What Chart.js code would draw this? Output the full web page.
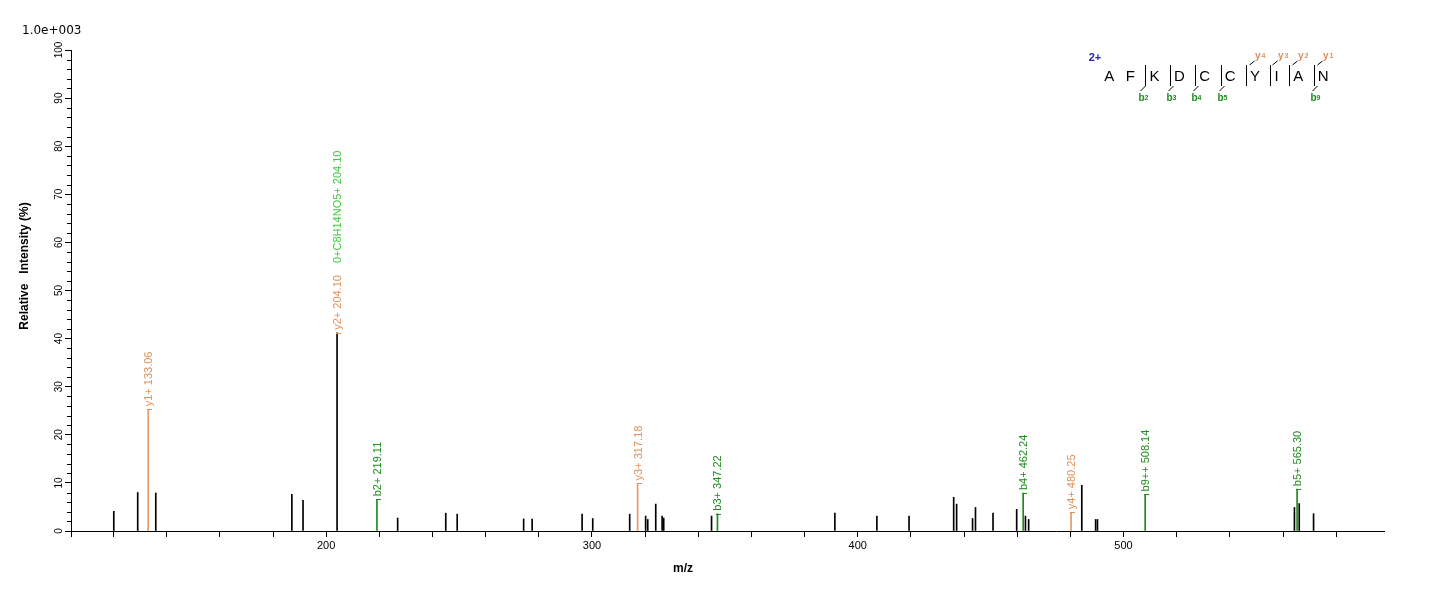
<!DOCTYPE html>
<html><head><meta charset="utf-8">
<script src="https://cdn.jsdelivr.net/npm/chart.js@4.4.0/dist/chart.umd.min.js"></script>
<style>html,body{margin:0;padding:0;background:#fff}canvas{display:block}</style>
</head><body>
<canvas id="c" width="1436" height="590"></canvas>
<script>
// ---- data (m/z, relative intensity %) ----
const otherMz  = [120.1,129.1,135.9,187.1,191.3,204.10,226.9,245.0,249.3,274.3,277.5,296.3,300.3,314.2,320.2,321.0,324.0,326.4,327.0,345.0,391.4,407.2,419.3,436.1,437.2,443.2,444.3,450.9,459.8,463.1,464.3,484.3,489.5,490.2,564.3,566.1,571.5];
const otherInt = [4.1,8.0,7.9,7.6,6.4,41.2,2.7,3.7,3.5,2.5,2.5,3.5,2.6,3.5,3.1,2.4,5.6,3.1,2.7,3.1,3.7,3.1,3.1,7.0,5.6,2.6,4.9,3.7,4.5,3.1,2.4,9.5,2.4,2.4,4.9,5.7,3.6];
const yIonMz   = [133.06,317.18,480.25];
const yIonInt  = [25.3,9.9,3.9];
const bIonMz   = [219.11,347.22,462.24,508.14,565.30];
const bIonInt  = [6.6,3.6,7.9,7.6,8.7];
// peak annotations
const labelMz   = [133.06,204.10,204.10,219.11,317.18,347.22,462.24,480.25,508.14,565.30];
const labelText = ['y1+ 133.06','y2+ 204.10','0+C8H14NO5+ 204.10','b2+ 219.11','y3+ 317.18','b3+ 347.22','b4+ 462.24','y4+ 480.25','b9++ 508.14','b5+ 565.30'];
const labelKind = ['y','y','imm','b','y','b','b','y','b','b'];
// axes
const xRange = [104, 598];
const xLabelValues = [200,300,400,500];
const yTickLabels = [0,10,20,30,40,50,60,70,80,90,100];
// peptide
const sequence = ['A','F','K','D','C','C','Y','I','A','N'];
const bIons = [2,3,4,5,9];
const yIons = [4,3,2,1];
const chargeText = '2+';
const scaleText = '1.0e+003';

const COL = {y:'#E0905C', yLine:'#E39A66', b:'#1F8A1F', imm:'#3CCB3C', black:'#000000', blue:'#2424B4'};
const SANS = '"Liberation Sans", Arial, sans-serif';

const toXY = (xs, ys) => xs.map((v,i)=>({x:v, y:ys[i]}));

const decor = {
  id:'decor',
  afterDraw(chart){
    const {ctx, scales:{x:xs, y:ys}, chartArea:ca} = chart;
    ctx.save();
    // minor y ticks
    ctx.strokeStyle='#000'; ctx.lineWidth=1;
    for(let v=0; v<=100; v+=2){
      if(v%10===0) continue;
      const py=Math.round(ys.getPixelForValue(v))+0.5;
      ctx.beginPath(); ctx.moveTo(ca.left-4,py); ctx.lineTo(ca.left,py); ctx.stroke();
    }
    // y axis extension below x axis
    ctx.beginPath(); ctx.moveTo(Math.round(ca.left)+0.5, ca.bottom); ctx.lineTo(Math.round(ca.left)+0.5, ca.bottom+6); ctx.stroke();
    // y tick labels (rotated)
    ctx.fillStyle='#000'; ctx.font='10px '+SANS; ctx.textAlign='center'; ctx.textBaseline='middle';
    yTickLabels.forEach(v=>{
      ctx.save(); ctx.translate(ca.left-12, ys.getPixelForValue(v)); ctx.rotate(-Math.PI/2);
      ctx.fillText(String(v),0,0); ctx.restore();
    });
    // axis titles
    ctx.font='bold 12px '+SANS;
    ctx.save(); ctx.translate(25, 266); ctx.rotate(-Math.PI/2); ctx.fillText('Relative   Intensity (%)',0,0); ctx.restore();
    ctx.fillText('m/z', 683, 569);
    // scale text
    ctx.font='12px "DejaVu Sans", sans-serif'; ctx.textAlign='left';
    ctx.fillText(scaleText, 22, 31);

    // peak labels
    const used = {};
    ctx.font='11px '+SANS; ctx.textAlign='left'; ctx.textBaseline='middle';
    labelMz.forEach((mz,i)=>{
      const kind=labelKind[i];
      let h=0;
      chart.data.datasets.forEach(ds=>ds.data.forEach(p=>{ if(Math.abs(p.x-mz)<0.05) h=Math.max(h,p.y); }));
      const px=xs.getPixelForValue(mz), py=ys.getPixelForValue(h);
      const key=mz.toFixed(2);
      const off=used[key]||0;
      const color = COL[kind];
      ctx.fillStyle=color; ctx.strokeStyle=color;
      if(off===0){
        ctx.beginPath(); ctx.moveTo(Math.round(px)-1, Math.round(py)+0.5); ctx.lineTo(Math.round(px)+4, Math.round(py)+0.5); ctx.stroke();
      }
      ctx.save(); ctx.translate(px+1, py-3-off); ctx.rotate(-Math.PI/2);
      ctx.fillText(labelText[i],0,0); ctx.restore();
      used[key]=off+ctx.measureText(labelText[i]).width+12;
    });

    // peptide annotation
    ctx.font='15px '+SANS; ctx.textAlign='center'; ctx.textBaseline='middle';
    const centers=[]; let cx=1109.3;
    const cut=(i)=> bIons.includes(i) || yIons.map(n=>sequence.length-n).includes(i);
    sequence.forEach((aa,i)=>{
      const w=ctx.measureText(aa).width;
      if(i>0){
        const pw=ctx.measureText(sequence[i-1]).width;
        cx += pw/2 + w/2 + (cut(i)?14.5:11.5);
      }
      centers.push(cx);
    });
    ctx.fillStyle='#000';
    sequence.forEach((aa,i)=>ctx.fillText(aa, centers[i], 77));
    const cutX = (i)=> { const w=ctx.measureText(sequence[i]).width; return Math.round(centers[i]-w/2-4)+0.5; };
    ctx.lineWidth=1; ctx.strokeStyle='#000';
    const sites=new Set([...bIons, ...yIons.map(n=>sequence.length-n)]);
    sites.forEach(i=>{ const x=cutX(i); ctx.beginPath(); ctx.moveTo(x,65); ctx.lineTo(x,86); ctx.stroke(); });
    bIons.forEach(n=>{
      const x=cutX(n);
      ctx.strokeStyle='#000'; ctx.beginPath(); ctx.moveTo(x,86); ctx.lineTo(x-5,91); ctx.stroke();
      ctx.fillStyle=COL.b; ctx.font='bold 10px '+SANS; ctx.textAlign='right'; ctx.fillText('b', x-1, 98);
      ctx.font='bold 7px '+SANS; ctx.textAlign='left'; ctx.fillText(String(n), x-1, 98);
    });
    yIons.forEach(n=>{
      const x=cutX(sequence.length-n);
      ctx.strokeStyle='#000'; ctx.beginPath(); ctx.moveTo(x,65); ctx.lineTo(x+5,61); ctx.stroke();
      ctx.fillStyle=COL.y; ctx.font='bold 10px '+SANS; ctx.textAlign='right'; ctx.fillText('y', x+11, 56);
      ctx.font='bold 7px '+SANS; ctx.textAlign='left'; ctx.fillText(String(n), x+12, 56);
    });
    ctx.fillStyle=COL.blue; ctx.font='bold 11px '+SANS; ctx.textAlign='center';
    ctx.fillText(chargeText, 1095, 58);
    ctx.restore();
  }
};

new Chart(document.getElementById('c'), {
  type:'bar',
  data:{ datasets:[
    {data:toXY(otherMz,otherInt), backgroundColor:COL.black},
    {data:toXY(yIonMz,yIonInt), backgroundColor:COL.yLine},
    {data:toXY(bIonMz,bIonInt), backgroundColor:COL.b}
  ]},
  options:{
    responsive:false, devicePixelRatio:1, animation:false, events:[],
    grouped:false, barThickness:1,
    layout:{padding:{top:50,right:52,left:0,bottom:0}},
    plugins:{legend:{display:false}, tooltip:{enabled:false}},
    scales:{
      x:{type:'linear', min:xRange[0], max:xRange[1], offset:false,
         afterFit:s=>{s.height=59;},
         grid:{offset:false, drawOnChartArea:false, drawTicks:true, tickLength:6, color:'#000'},
         border:{display:true, color:'#000'},
         ticks:{stepSize:20, includeBounds:false, autoSkip:false, maxRotation:0, color:'#000', padding:2,
                font:{size:11, family:SANS},
                callback:v=> xLabelValues.includes(v)? String(v) : ''}},
      y:{min:0, max:100,
         afterFit:s=>{s.width=71;},
         grid:{drawOnChartArea:false, drawTicks:true, tickLength:6, color:'#000'},
         border:{display:true, color:'#000'},
         ticks:{stepSize:10, display:false}}
    }
  },
  plugins:[decor]
});
</script>
</body></html>
